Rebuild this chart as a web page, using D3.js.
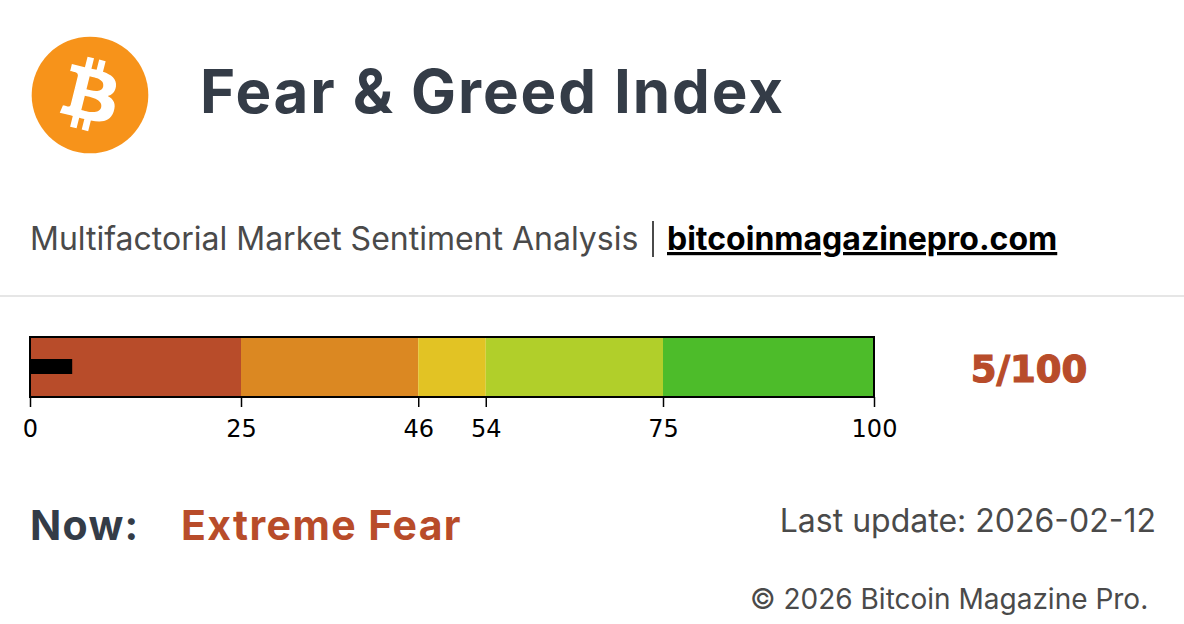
<!DOCTYPE html>
<html><head><meta charset="utf-8">
<script src="https://cdn.jsdelivr.net/npm/d3@7"></script>
<style>html,body{margin:0;padding:0;background:#fff;overflow:hidden}svg{display:block}</style>
</head><body><svg id="c" width="1184" height="624"></svg>
<script>
const bandStarts = [0, 25, 46, 54, 75];
const bandEnds = [25, 46, 54, 75, 100];
const bandColors = ["#b84c2a", "#db8822", "#e2c324", "#b1cf2a", "#4dbc2a"];
const tickValues = [0, 25, 46, 54, 75, 100];
const currentValue = [5];
const maxValue = 100;
const statusLabel = "Extreme Fear";
const lastUpdate = "2026-02-12";
const BTC = "M46.103 27.444c.637-4.258-2.605-6.547-7.038-8.074l1.438-5.768-3.511-.875-1.4 5.616c-.923-.23-1.871-.447-2.813-.662l1.41-5.653-3.509-.875-1.439 5.766c-.764-.174-1.514-.346-2.242-.527l.004-.018-4.842-1.209-.934 3.75s2.605.597 2.55.634c1.422.355 1.679 1.296 1.636 2.042l-1.638 6.571c.098.025.225.061.365.117l-.371-.092-2.296 9.205c-.174.432-.615 1.08-1.609.834.035.051-2.552-.637-2.552-.637l-1.743 4.019 4.569 1.139c.85.213 1.683.436 2.503.646l-1.453 5.834 3.507.875 1.439-5.772c.958.26 1.888.5 2.798.726l-1.434 5.745 3.511.875 1.453-5.823c5.987 1.133 10.489.676 12.384-4.739 1.527-4.36-.076-6.875-3.226-8.515 2.294-.529 4.022-2.038 4.483-5.155zM38.08 38.693c-1.085 4.36-8.426 2.003-10.806 1.412l1.928-7.729c2.38.594 10.012 1.77 8.878 6.317zm1.086-11.312c-.99 3.966-7.1 1.951-9.082 1.457l1.748-7.01c1.982.494 8.365 1.416 7.334 5.553z";

const svg = d3.select("#c");
const sans = "Inter, 'Noto Sans', sans-serif";
const dark = "#343c47", grey = "#4a4a4a", red = "#b84c2a";

// header
const logo = svg.append("g").attr("transform", "translate(90,95) scale(1.84) translate(-32,-32)");
logo.append("circle").attr("cx", 32).attr("cy", 32).attr("r", 31.7).attr("fill", "#f7931a");
logo.append("path").attr("d", BTC).attr("fill", "#fff");

svg.append("text").attr("x", 200).attr("y", 113).attr("font-family", sans).attr("font-weight", 700)
  .attr("font-size", 60).attr("letter-spacing", 1.9).attr("fill", dark).text("Fear & Greed Index");

svg.append("text").attr("x", 30).attr("y", 250).attr("font-family", sans).attr("font-size", 32).attr("fill", grey)
  .text("Multifactorial Market Sentiment Analysis");
svg.append("rect").attr("x", 652).attr("y", 221).attr("width", 2).attr("height", 36).attr("fill", grey);
svg.append("text").attr("x", 667).attr("y", 250).attr("font-family", sans).attr("font-size", 32).attr("font-weight", 700)
  .attr("fill", "#000").attr("text-decoration", "underline").text("bitcoinmagazinepro.com");

svg.append("line").attr("x1", 0).attr("x2", 1184).attr("y1", 296).attr("y2", 296).attr("stroke", "#e6e6e6").attr("stroke-width", 2);

// bullet gauge
const x = d3.scaleLinear().domain([0, maxValue]).range([30, 874]);
const barTop = 337, barBottom = 397;
svg.append("g").selectAll("rect").data(bandStarts).join("rect")
  .attr("x", d => x(d))
  .attr("width", (d, i) => x(bandEnds[i]) - x(d))
  .attr("y", barTop).attr("height", barBottom - barTop)
  .attr("fill", (d, i) => bandColors[i]);
svg.append("g").selectAll("rect").data(currentValue).join("rect")
  .attr("x", x(0)).attr("width", d => x(d) - x(0))
  .attr("y", 359).attr("height", 15).attr("fill", "#000");
svg.append("rect").attr("x", x(0)).attr("y", barTop).attr("width", x(maxValue) - x(0)).attr("height", barBottom - barTop)
  .attr("fill", "none").attr("stroke", "#000").attr("stroke-width", 2);

const axis = d3.axisBottom(x).tickValues(tickValues).tickSize(10).tickPadding(13).tickFormat(d3.format("d"));
const ax = svg.append("g").attr("transform", `translate(0,${barBottom})`).call(axis);
ax.select(".domain").remove();
ax.selectAll(".tick line").attr("stroke", "#000").attr("stroke-width", 1.5);
ax.selectAll(".tick text").attr("fill", "#000").attr("font-family", "'DejaVu Sans'").attr("font-size", 24);

svg.append("text").attr("x", 1029).attr("y", 382).attr("text-anchor", "middle")
  .attr("font-family", "'DejaVu Sans'").attr("font-weight", 700).attr("font-size", 37)
  .attr("fill", red).attr("stroke", red).attr("stroke-width", 1.2).text(currentValue[0] + "/" + maxValue);

// footer
svg.append("text").attr("x", 30).attr("y", 540).attr("font-family", sans).attr("font-weight", 700)
  .attr("font-size", 41).attr("letter-spacing", 1.3).attr("fill", dark).text("Now:");
svg.append("text").attr("x", 181).attr("y", 540).attr("font-family", sans).attr("font-weight", 700)
  .attr("font-size", 41).attr("letter-spacing", 1.4).attr("fill", red).text(statusLabel);
svg.append("text").attr("x", 1156).attr("y", 532).attr("text-anchor", "end").attr("font-family", sans)
  .attr("font-size", 32).attr("fill", grey).text("Last update: " + lastUpdate);
svg.append("text").attr("x", 750).attr("y", 609).attr("font-family", sans)
  .attr("font-size", 28).attr("fill", grey).text("© 2026 Bitcoin Magazine Pro.");
</script></body></html>
